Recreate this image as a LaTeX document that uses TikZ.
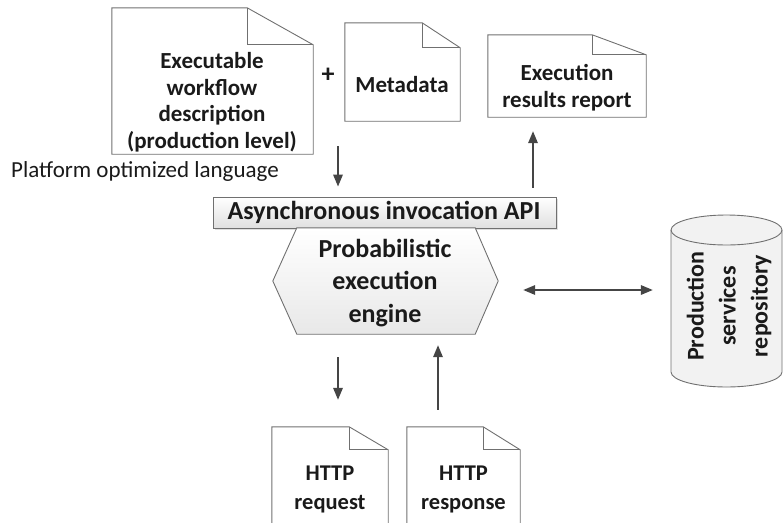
\documentclass[tikz,border=0pt]{standalone}
\usepackage{fontspec}
\setmainfont{Carlito}
\usetikzlibrary{arrows.meta,shadows}
\definecolor{edgegray}{HTML}{707070}
\definecolor{arrowgray}{HTML}{454545}
\definecolor{inkblack}{HTML}{1A1A1A}
\tikzset{
  outline/.style={draw=edgegray, line width=0.9pt},
  frame/.style={inner sep=0pt, draw=none},
  lbl/.style={font=\bfseries\fontsize{23}{26.5}\selectfont, text=inkblack, align=center, inner sep=0pt},
  biglbl/.style={font=\bfseries\fontsize{26}{32.5}\selectfont, text=inkblack, align=center, inner sep=0pt},
  arr/.style={draw=arrowgray, line width=1.7pt, -{Triangle[length=12pt,width=9.5pt]}},
  dblarr/.style={draw=arrowgray, line width=1.7pt, {Triangle[length=12pt,width=9.5pt]}-{Triangle[length=12pt,width=9.5pt]}},
}
% document outline with a folded top-right corner: node, fold width, fold height
\newcommand\foldoutline[3]{%
  \draw[outline] (#1.north west) -- ([xshift=-#2pt]#1.north east)
     -- ([yshift=-#3pt]#1.north east) -- (#1.south east) -- (#1.south west) -- cycle;
  \draw[outline] ([xshift=-#2pt]#1.north east) -- ([xshift=-#2pt,yshift=-#3pt]#1.north east)
     -- ([yshift=-#3pt]#1.north east);}
\begin{document}
\begin{tikzpicture}[x=1pt, y=-1pt]
\useasboundingbox (0,0) rectangle (783,522);
\clip (0,0) rectangle (783,522);

% documents
\node[frame, minimum width=201pt, minimum height=146pt] (wf) at (212.5,81) {};
\node[frame, minimum width=115pt, minimum height=98pt] (meta) at (402.5,72) {};
\node[frame, minimum width=158pt, minimum height=82pt] (res) at (567,76) {};
\node[frame, minimum width=116pt, minimum height=113pt] (req) at (330,483.5) {};
\node[frame, minimum width=113pt, minimum height=113pt] (resp) at (463.5,483.5) {};
\foldoutline{wf}{66}{37}
\foldoutline{meta}{38}{25}
\foldoutline{res}{54}{20}
\foldoutline{req}{39}{23}
\foldoutline{resp}{37}{23}

\node[lbl] (wftext) at (212,102) {Executable\\workflow\\description\\(production level)};
\node[lbl] (metatext) at (402,85) {Metadata};
\node[lbl, font=\bfseries\fontsize{26}{26}\selectfont] (plus) at (328,75) {+};
\node[lbl, font=\bfseries\fontsize{23}{27}\selectfont] (restext) at (567,88) {Execution\\results report};
\node[lbl, font=\bfseries\fontsize{22.5}{29}\selectfont] (reqtext) at (330,489) {HTTP\\request};
\node[lbl, font=\bfseries\fontsize{22.5}{29}\selectfont] (resptext) at (463.5,489) {HTTP\\response};

\node[anchor=west, inner sep=0pt, text=inkblack, font=\fontsize{23}{24}\selectfont] (lang) at (11,171) {Platform optimized language};

% invocation API bar
\node[frame, minimum width=343pt, minimum height=31pt, outline, top color=white, bottom color=black!12,
      drop shadow={shadow xshift=1.5pt, shadow yshift=-1.5pt, opacity=.25}] (api) at (384.5,212.5) {};
\node[biglbl] (apitext) at (384,212) {Asynchronous invocation API};

% execution engine hexagon
\node[frame, minimum width=225pt, minimum height=106pt] (engine) at (385.5,281) {};
\path[outline, top color=white, bottom color=black!9]
  ([xshift=24pt]engine.north west) -- ([xshift=-23pt]engine.north east) -- (engine.east)
  -- ([xshift=-23pt]engine.south east) -- ([xshift=24pt]engine.south west) -- (engine.west) -- cycle;
\node[biglbl] (enginetext) at (385,283) {Probabilistic\\execution\\engine};

% services repository cylinder
\node[frame, minimum width=111pt, minimum height=172pt] (repo) at (726.5,301) {};
\path[outline, fill=black!5]
  (671,230) -- (671,372) arc[start angle=180, end angle=360, x radius=55.5pt, y radius=15pt]
  -- (782,230) arc[start angle=0, end angle=180, x radius=55.5pt, y radius=15pt] -- cycle;
\draw[outline] (671,230) arc[start angle=180, end angle=360, x radius=55.5pt, y radius=15pt];
\node[lbl, rotate=90, font=\bfseries\fontsize{24}{32}\selectfont] (repotext) at (729,306) {Production\\services\\repository};

% connectors
\coordinate (inx) at (338,146);
\coordinate (outx) at (533,0);
\coordinate (reqx) at (338,0);
\coordinate (respx) at (438,0);
\draw[arr, shorten >=10pt] (inx) -- (inx |- api.north);
\draw[arr, shorten <=9pt, shorten >=14pt] (outx |- api.north) -- (outx |- res.south);
\draw[arr, shorten <=23pt, shorten >=27pt] (reqx |- engine.south) -- (reqx |- req.north);
\draw[arr, shorten <=17pt, shorten >=11pt] (respx |- resp.north) -- (respx |- engine.south);
\draw[dblarr, shorten <=25pt, shorten >=18pt] ([yshift=-9pt]engine.east) -- ([yshift=-9pt]engine.east -| repo.west);
\end{tikzpicture}
\end{document}
